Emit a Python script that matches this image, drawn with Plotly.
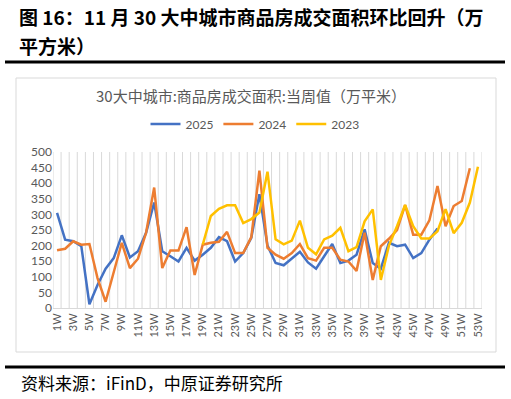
import plotly.graph_objects as go

weeks = list(range(1, 54))
tick_weeks = list(range(1, 54, 2))
tick_labels = [f"{w}W" for w in tick_weeks]

y2025 = [305, 219, 214, 198, 12, 74, 126, 160, 233, 162,
         182, 241, 338, 182, 166, 149, 193, 152, 171, 193,
         227, 214, 149, 176, 225, 365, 200, 144, 137, 160,
         180, 146, 126, 166, 205, 144, 152, 171, 252, 144,
         126, 209, 198, 203, 160, 176, 219, 255] + [None] * 5

y2024 = [185, 190, 214, 203, 205, 96, 20, 112, 209, 128,
         158, 241, 386, 128, 184, 184, 259, 106, 203, 209,
         212, 244, 176, 176, 227, 440, 193, 171, 158, 176,
         205, 160, 152, 193, 193, 155, 149, 119, 241, 90,
         198, 222, 250, 330, 235, 235, 281, 391, 262, 327,
         343, 448, None]

y2023 = [None] * 18 + [203, 295, 318, 329, 329, 272, 285, 306, 437, 220,
                       204, 216, 280, 193, 172, 220, 232, 257, 182, 195,
                       278, 316, 90, 200, 262, 330, 262, 223, 223, 246,
                       317, 240, 273, 338, 453]

series = [("2025", y2025, "#4472C4"), ("2024", y2024, "#ED7D31"), ("2023", y2023, "#FFC000")]

W, H = 511, 399
L, R, T, B = 53, 482, 152, 308


def px2x(px):
    return (px - L) / (R - L)


def py2y(py):
    return (B - py) / (B - T)


FONT = "Lato, Noto Sans CJK SC, sans-serif"
CJK = "Noto Sans CJK SC, sans-serif"
GRAY = "#595959"
GRID = "#d9d9d9"

fig = go.Figure()
for name, vals, color in series:
    fig.add_trace(go.Scatter(x=weeks, y=vals, name=name, mode="lines",
                             line=dict(color=color, width=2.5), connectgaps=False))

fig.update_layout(
    width=W, height=H,
    margin=dict(l=L, r=W - R, t=T, b=H - B, pad=0, autoexpand=False),
    paper_bgcolor="white", plot_bgcolor="white",
    font=dict(family=FONT, color=GRAY),
    showlegend=True,
    legend=dict(orientation="h", x=px2x(255), xanchor="center", y=py2y(124), yanchor="middle",
                font=dict(size=12, color=GRAY, family=FONT), bgcolor="rgba(0,0,0,0)",
                itemwidth=30),
    xaxis=dict(range=[0.5, 53.5], tickmode="array", tickvals=tick_weeks, ticktext=tick_labels,
               tickangle=-90, showgrid=False, zeroline=False, showline=True, linecolor=GRID,
               ticks="", tickfont=dict(size=11, color=GRAY)),
    yaxis=dict(range=[0, 500], dtick=50, showgrid=False, zeroline=False, showline=False,
               ticks="", tickfont=dict(size=12, color=GRAY)),
)

annotations = [
    dict(text="<b>图 16：11 月 30 大中城市商品房成交面积环比回升（万</b>", x=px2x(17), y=py2y(16),
         xanchor="left", yanchor="middle", font=dict(size=19, color="black", family=CJK)),
    dict(text="<b>平方米）</b>", x=px2x(17), y=py2y(45),
         xanchor="left", yanchor="middle", font=dict(size=19, color="black", family=CJK)),
    dict(text="30大中城市:商品房成交面积:当周值（万平米）", x=px2x(251), y=py2y(95),
         xanchor="center", yanchor="middle", font=dict(size=15, color=GRAY, family=CJK)),
    dict(text="资料来源：iFinD，中原证券研究所", x=px2x(19), y=py2y(382),
         xanchor="left", yanchor="middle", font=dict(size=17, color="black", family=CJK)),
]
for a in annotations:
    a.update(xref="paper", yref="paper", showarrow=False)
fig.update_layout(annotations=annotations)

shapes = [
    dict(type="line", xref="paper", yref="paper", x0=px2x(5), x1=px2x(505), y0=py2y(62), y1=py2y(62),
         line=dict(color="black", width=3), layer="below"),
    dict(type="line", xref="paper", yref="paper", x0=px2x(5), x1=px2x(505), y0=py2y(367), y1=py2y(367),
         line=dict(color="black", width=3), layer="below"),
    dict(type="rect", xref="paper", yref="paper", x0=px2x(16), x1=px2x(496), y0=py2y(352), y1=py2y(78),
         line=dict(color=GRID, width=1), layer="below"),
]
# vertical category-boundary gridlines
for b in [w - 0.5 for w in weeks] + [weeks[-1] + 0.5]:
    shapes.append(dict(type="line", xref="x", yref="y", x0=b, x1=b, y0=0, y1=500,
                       line=dict(color=GRID, width=1), layer="below"))
fig.update_layout(shapes=shapes)

fig.write_html("out.html", config={"displayModeBar": False},
               post_script="document.body.style.margin='0';")
